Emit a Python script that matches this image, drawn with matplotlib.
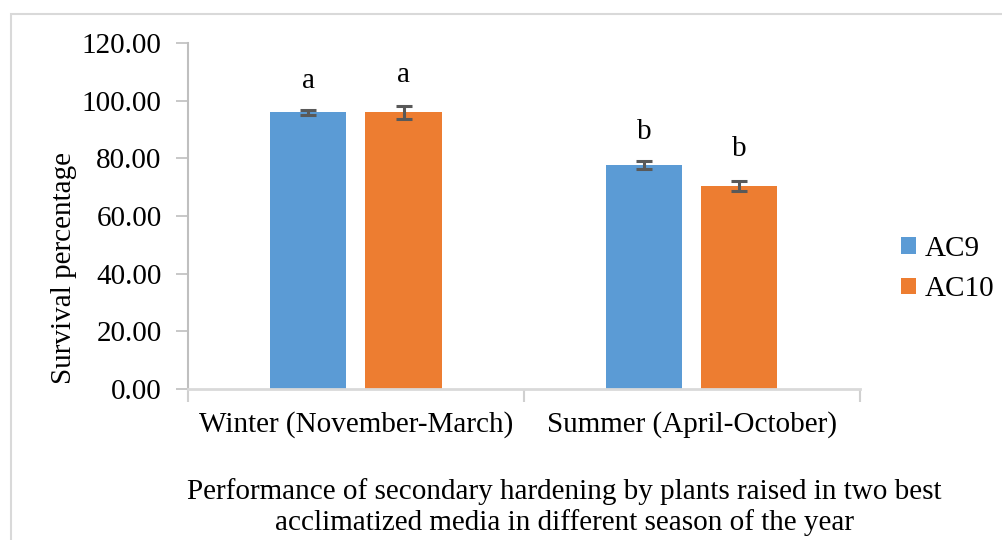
import matplotlib.pyplot as plt
import numpy as np

# survival data for the two media in each season
seasons = ["Winter (November-March)", "Summer (April-October)"]
ac9 = [95.9, 77.8]
ac10 = [95.9, 70.4]
ac9_err = [1.0, 1.4]
ac10_err = [2.2, 1.8]
ac9_letters = ["a", "b"]
ac10_letters = ["a", "b"]

plt.rcParams['font.family'] = ['Liberation Serif', 'DejaVu Serif']
FS = 21

fig = plt.figure(figsize=(10.03, 5.40), dpi=100)
ax = fig.add_axes([0.1874, 0.2796, 0.857 - 0.1874, 0.9204 - 0.2796])

x = np.arange(len(seasons)) + 0.5
w = 0.227
off = 0.142

err_kw = dict(ecolor='#595959', elinewidth=2.2, capsize=6, capthick=2.2)
ax.bar(x - off, ac9, w, color='#5B9BD5', yerr=ac9_err, error_kw=err_kw, label='AC9', zorder=2)
ax.bar(x + off, ac10, w, color='#ED7D31', yerr=ac10_err, error_kw=err_kw, label='AC10', zorder=2)

# significance letters above the bars
for i in range(len(seasons)):
    ax.text(x[i] - off, ac9[i] + ac9_err[i] + 7.5, ac9_letters[i], ha='center', va='baseline', fontsize=FS)
    ax.text(x[i] + off, ac10[i] + ac10_err[i] + 8.5, ac10_letters[i], ha='center', va='baseline', fontsize=FS)

ax.set_xlim(0, 2)
ax.set_ylim(0, 120)
ax.set_yticks(np.arange(0, 121, 20))
ax.set_yticklabels([f"{v:.2f}" for v in np.arange(0, 121, 20)], fontsize=FS)
ax.set_xticks([0, 1, 2])
ax.set_xticklabels([])
ax.set_xticks(x, minor=True)
ax.set_xticklabels(seasons, minor=True, fontsize=FS)
ax.tick_params(axis='x', which='minor', length=0, pad=16)
ax.tick_params(axis='x', which='major', length=9, color='#d0d0d0', width=1.5)
ax.tick_params(axis='y', length=9, color='#bfbfbf', width=1.2, pad=10)

for s in ['top', 'right']:
    ax.spines[s].set_visible(False)
ax.spines['left'].set_color('#bfbfbf')
ax.spines['left'].set_linewidth(1.5)
ax.spines['bottom'].set_color('#d9d9d9')
ax.spines['bottom'].set_linewidth(2)

ax.set_ylabel("Survival percentage", fontsize=FS)
ax.yaxis.set_label_coords(-0.165, 0.35)

fig.text(0.563, 0.061, "Performance of secondary hardening by plants raised in two best\n"
         "acclimatized media in different season of the year",
         ha='center', va='center', fontsize=FS, linespacing=1.2)

ax.legend(loc='center left', bbox_to_anchor=(0.884, 0.502), bbox_transform=fig.transFigure,
          frameon=False, fontsize=FS, handlelength=0.5, handleheight=0.5,
          handletextpad=0.3, labelspacing=0.5, borderpad=0)

# light outer frame around the chart area
frame = plt.Rectangle((0.011, -0.1), 1.2, 0.1 + 1 - 14 / 540, transform=fig.transFigure,
                      fill=False, edgecolor='#d9d9d9', linewidth=1.5)
fig.patches.append(frame)

fig.savefig("out.png", dpi=100)
